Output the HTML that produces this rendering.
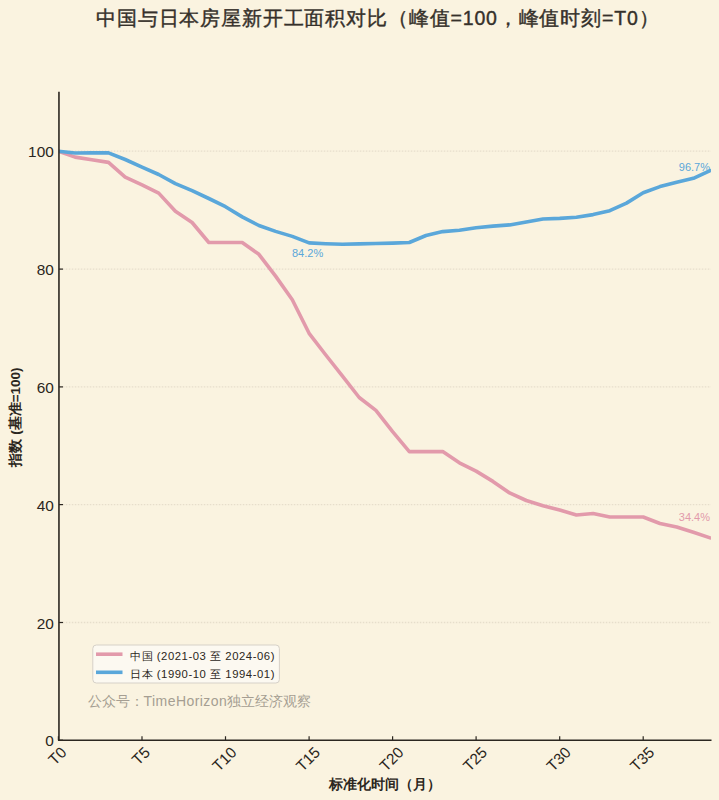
<!DOCTYPE html>
<html><head><meta charset="utf-8"><style>
html,body{margin:0;padding:0;background:#faf3e0;}
svg{display:block;}
text{font-family:"Liberation Sans",sans-serif;fill:#2b2620;}
.tk{font-size:15.4px;}
</style></head><body>
<svg width="719" height="800" viewBox="0 0 719 800">
<rect width="719" height="800" fill="#faf3e0"/>
<text x="96" y="25" style="font-size:19.5px;letter-spacing:0.85px;fill:#35302a;stroke:#35302a;stroke-width:0.4px">中国与日本房屋新开工面积对比（峰值=100，峰值时刻=T0）</text>
<line x1="59.8" x2="711" y1="622.5" y2="622.5" stroke="#e6decb" stroke-width="1.3" stroke-dasharray="1.5,1.5"/><line x1="59.8" x2="711" y1="504.6" y2="504.6" stroke="#e6decb" stroke-width="1.3" stroke-dasharray="1.5,1.5"/><line x1="59.8" x2="711" y1="386.9" y2="386.9" stroke="#e6decb" stroke-width="1.3" stroke-dasharray="1.5,1.5"/><line x1="59.8" x2="711" y1="269.1" y2="269.1" stroke="#e6decb" stroke-width="1.3" stroke-dasharray="1.5,1.5"/><line x1="59.8" x2="711" y1="151.2" y2="151.2" stroke="#e6decb" stroke-width="1.3" stroke-dasharray="1.5,1.5"/>
<line x1="58.95" x2="63" y1="740.2" y2="740.2" stroke="#2b2620" stroke-width="1.2"/><text x="53.8" y="746.2" text-anchor="end" class="tk">0</text><line x1="58.95" x2="63" y1="622.5" y2="622.5" stroke="#2b2620" stroke-width="1.2"/><text x="53.8" y="628.5" text-anchor="end" class="tk">20</text><line x1="58.95" x2="63" y1="504.6" y2="504.6" stroke="#2b2620" stroke-width="1.2"/><text x="53.8" y="510.6" text-anchor="end" class="tk">40</text><line x1="58.95" x2="63" y1="386.9" y2="386.9" stroke="#2b2620" stroke-width="1.2"/><text x="53.8" y="392.9" text-anchor="end" class="tk">60</text><line x1="58.95" x2="63" y1="269.1" y2="269.1" stroke="#2b2620" stroke-width="1.2"/><text x="53.8" y="275.1" text-anchor="end" class="tk">80</text><line x1="58.95" x2="63" y1="151.2" y2="151.2" stroke="#2b2620" stroke-width="1.2"/><text x="53.8" y="157.2" text-anchor="end" class="tk">100</text>
<line x1="58.4" x2="58.4" y1="740.25" y2="736.25" stroke="#2b2620" stroke-width="1.2"/><text transform="translate(61.1,759.73) rotate(-45)" text-anchor="middle" class="tk">T0</text><line x1="142.0" x2="142.0" y1="740.25" y2="736.25" stroke="#2b2620" stroke-width="1.2"/><text transform="translate(144.7,759.73) rotate(-45)" text-anchor="middle" class="tk">T5</text><line x1="225.5" x2="225.5" y1="740.25" y2="736.25" stroke="#2b2620" stroke-width="1.2"/><text transform="translate(228.2,762.75) rotate(-45)" text-anchor="middle" class="tk">T10</text><line x1="309.1" x2="309.1" y1="740.25" y2="736.25" stroke="#2b2620" stroke-width="1.2"/><text transform="translate(311.8,762.75) rotate(-45)" text-anchor="middle" class="tk">T15</text><line x1="392.6" x2="392.6" y1="740.25" y2="736.25" stroke="#2b2620" stroke-width="1.2"/><text transform="translate(395.3,762.75) rotate(-45)" text-anchor="middle" class="tk">T20</text><line x1="476.1" x2="476.1" y1="740.25" y2="736.25" stroke="#2b2620" stroke-width="1.2"/><text transform="translate(478.8,762.75) rotate(-45)" text-anchor="middle" class="tk">T25</text><line x1="559.7" x2="559.7" y1="740.25" y2="736.25" stroke="#2b2620" stroke-width="1.2"/><text transform="translate(562.4,762.75) rotate(-45)" text-anchor="middle" class="tk">T30</text><line x1="643.2" x2="643.2" y1="740.25" y2="736.25" stroke="#2b2620" stroke-width="1.2"/><text transform="translate(646.0,762.75) rotate(-45)" text-anchor="middle" class="tk">T35</text>
<defs><clipPath id="ax"><rect x="58.95" y="91.7" width="652" height="648.6"/></clipPath></defs>
<g clip-path="url(#ax)"><polyline points="58.4,151.2 75.1,157.1 91.8,159.8 108.5,162.4 125.2,177.2 142.0,184.8 158.7,193.1 175.4,211.3 192.1,222.5 208.8,242.5 225.5,242.5 242.2,242.5 258.9,254.3 275.6,276.1 292.3,299.7 309.1,333.3 325.8,355.0 342.5,376.2 359.2,397.5 375.9,410.4 392.6,431.6 409.3,451.6 426.0,451.6 442.7,451.6 459.4,462.8 476.1,471.1 492.9,481.4 509.6,492.9 526.3,500.5 543.0,505.8 559.7,510.0 576.4,515.0 593.1,513.5 609.8,517.0 626.5,517.0 643.2,517.0 660.0,523.5 676.7,527.0 693.4,532.3 710.1,537.9" fill="none" stroke="#e29aab" stroke-width="3.6" stroke-linejoin="round" stroke-linecap="round"/>
<polyline points="58.4,151.2 75.1,153.0 91.8,152.9 108.5,152.9 125.2,159.5 142.0,167.2 158.7,174.5 175.4,183.6 192.1,190.7 208.8,198.5 225.5,206.7 242.2,216.9 258.9,225.5 275.6,231.4 292.3,236.4 309.1,242.9 325.8,243.7 342.5,244.2 359.2,243.9 375.9,243.5 392.6,243.1 409.3,242.5 426.0,235.5 442.7,231.6 459.4,230.2 476.1,227.8 492.9,226.1 509.6,224.9 526.3,221.9 543.0,219.0 559.7,218.4 576.4,217.2 593.1,214.6 609.8,210.7 626.5,203.1 643.2,192.8 660.0,186.6 676.7,182.2 693.4,178.3 710.1,170.7" fill="none" stroke="#5aa7da" stroke-width="3.6" stroke-linejoin="round" stroke-linecap="round"/></g>
<line x1="58.95" x2="58.95" y1="91.7" y2="741.05" stroke="#2b2620" stroke-width="1.6"/>
<line x1="58.15" x2="711.5" y1="740.25" y2="740.25" stroke="#2b2620" stroke-width="1.6"/>
<text x="307.6" y="256.5" text-anchor="middle" style="font-size:11px;fill:#5aa7da">84.2%</text>
<text x="710" y="171" text-anchor="end" style="font-size:11px;fill:#5aa7da">96.7%</text>
<text x="710" y="520.5" text-anchor="end" style="font-size:11px;fill:#e29aab">34.4%</text>
<rect x="92.8" y="645" width="186.6" height="38" rx="3.5" fill="#fcf9f1" stroke="#d6d1c8" stroke-width="1"/>
<line x1="96" x2="122.5" y1="654.2" y2="654.2" stroke="#e29aab" stroke-width="3.6"/>
<line x1="96" x2="122.5" y1="672.3" y2="672.3" stroke="#5aa7da" stroke-width="3.6"/>
<text x="130" y="659.5" style="font-size:11.3px;letter-spacing:0.55px">中国 (2021-03 至 2024-06)</text>
<text x="130" y="677.5" style="font-size:11.3px;letter-spacing:0.55px">日本 (1990-10 至 1994-01)</text>
<text x="87.5" y="706" style="font-size:14px;fill:#a59e92">公众号：<tspan style="letter-spacing:0.45px">TimeHorizon</tspan>独立经济观察</text>
<text transform="translate(20,417) rotate(-90)" text-anchor="middle" style="font-size:13.5px;font-weight:bold">指数 (基准=100)</text>
<text x="385" y="789" text-anchor="middle" style="font-size:14px;font-weight:bold">标准化时间（月）</text>
</svg>
</body></html>
